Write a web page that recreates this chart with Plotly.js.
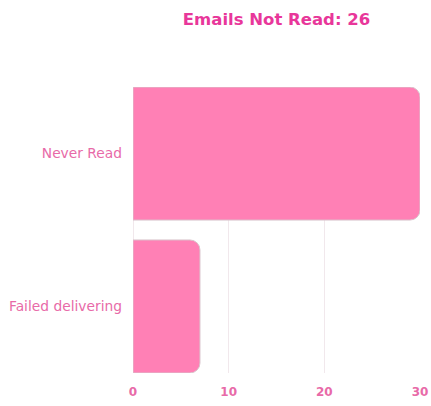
<!DOCTYPE html>
<html>
<head>
<meta charset="utf-8">
<script src="https://cdn.plot.ly/plotly-3.0.1.min.js"></script>
<style>html,body{margin:0;padding:0;background:#fff;}#chart{width:431px;height:406px;}</style>
</head>
<body>
<div id="chart"></div>
<script>
const categories = ["Never Read", "Failed delivering"];
const counts = [30, 7];
const xTicks = [0, 10, 20, 30];
const titleText = "Emails Not Read: 26";

const trace = {
  type: "bar",
  orientation: "h",
  y: categories,
  x: counts,
  marker: {
    color: "#ff80b5",
    line: { color: "#d9c4cc", width: 1 },
    cornerradius: 10
  },
  hoverinfo: "none"
};

const layout = {
  width: 431,
  height: 406,
  margin: { l: 133, r: 11, t: 87, b: 33 },
  paper_bgcolor: "#ffffff",
  plot_bgcolor: "#ffffff",
  bargap: 0.13,
  showlegend: false,
  title: {
    text: "<b>" + titleText + "</b>",
    font: { family: "DejaVu Sans, sans-serif", size: 16.5, color: "#e8379a" },
    x: 0.5, xref: "paper", xanchor: "center",
    y: 0.968, yref: "container"
  },
  xaxis: {
    range: [0, 30],
    tickvals: xTicks,
    ticktext: xTicks.map(v => "<b>" + v + "</b>"),
    showgrid: true,
    gridcolor: "#f1e8ec",
    gridwidth: 1,
    zeroline: true,
    zerolinecolor: "#f1e8ec",
    showline: false,
    ticks: "",
    ticklabelstandoff: 10,
    tickfont: { family: "DejaVu Sans, sans-serif", size: 12, color: "#e86aa8" },
    fixedrange: true
  },
  yaxis: {
    type: "category",
    categoryorder: "array",
    categoryarray: categories.slice().reverse(),
    range: [-0.435, 1.435],
    showgrid: false,
    zeroline: false,
    showline: false,
    ticks: "",
    ticklabelstandoff: 10,
    tickfont: { family: "DejaVu Sans, sans-serif", size: 13.8, color: "#e86aa8" },
    fixedrange: true
  }
};

Plotly.newPlot("chart", [trace], layout, { displayModeBar: false, staticPlot: true });
</script>
</body>
</html>
